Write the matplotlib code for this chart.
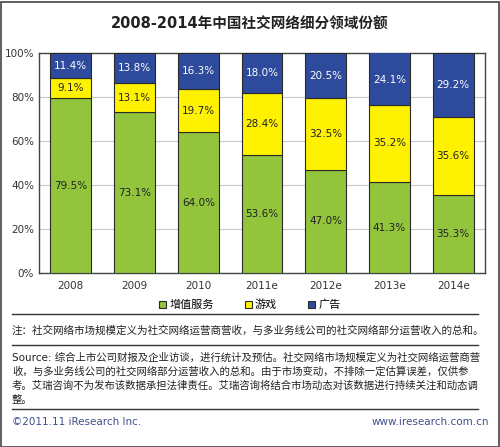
import matplotlib
matplotlib.use("Agg")
from matplotlib import pyplot as plt
from matplotlib.lines import Line2D
from matplotlib.patches import Rectangle
import numpy as np

plt.rcParams['font.family'] = ['DejaVu Sans', 'Noto Sans CJK SC']

# data
years = ['2008', '2009', '2010', '2011e', '2012e', '2013e', '2014e']
vas = [79.5, 73.1, 64.0, 53.6, 47.0, 41.3, 35.3]
games = [9.1, 13.1, 19.7, 28.4, 32.5, 35.2, 35.6]
ads = [11.4, 13.8, 16.3, 18.0, 20.5, 24.1, 29.2]
series_names = ['增值服务', '游戏', '广告']

title = '2008-2014年中国社交网络细分领域份额'
note = '注：社交网络市场规模定义为社交网络运营商营收，与多业务线公司的社交网络部分运营收入的总和。'
source = ['Source: 综合上市公司财报及企业访谈，进行统计及预估。社交网络市场规模定义为社交网络运营商营',
          '收，与多业务线公司的社交网络部分运营收入的总和。由于市场变动，不排除一定估算误差，仅供参',
          '考。艾瑞咨询不为发布该数据承担法律责任。艾瑞咨询将结合市场动态对该数据进行持续关注和动态调',
          '整。']

green = '#92c43c'
yellow = '#fff200'
blue = '#2e4a9c'
edge = '#2a2a2a'

W, H = 500, 447
fig = plt.figure(figsize=(W/100, H/100), dpi=100)
fig.patch.set_facecolor('white')

ax = fig.add_axes([39/W, 1-273/H, 446/W, 220/H])
x = np.arange(len(years))
bw = 0.64
vas = np.array(vas)
games = np.array(games)
ads = np.array(ads)
ax.bar(x, vas, bw, color=green, edgecolor=edge, linewidth=0.8, zorder=3, label=series_names[0])
ax.bar(x, games, bw, bottom=vas, color=yellow, edgecolor=edge, linewidth=0.8, zorder=3, label=series_names[1])
ax.bar(x, ads, bw, bottom=vas+games, color=blue, edgecolor=edge, linewidth=0.8, zorder=3, label=series_names[2])

for i in range(len(years)):
    ax.text(x[i], vas[i]/2, '%.1f%%' % vas[i], ha='center', va='center', fontsize=7.5, color='#222222', zorder=4)
    ax.text(x[i], vas[i]+games[i]/2, '%.1f%%' % games[i], ha='center', va='center', fontsize=7.5, color='#222222', zorder=4)
    ax.text(x[i], min(vas[i]+games[i]+ads[i]/2, 100-ads[i]/2), '%.1f%%' % ads[i], ha='center', va='center', fontsize=7.5, color='white', zorder=4)

ax.set_xlim(-0.5, len(years)-0.5)
ax.set_ylim(0, 100)
ax.set_yticks([0, 20, 40, 60, 80, 100])
ax.set_yticklabels(['0%', '20%', '40%', '60%', '80%', '100%'])
ax.set_xticks(x)
ax.set_xticklabels(years)
ax.tick_params(axis='both', length=0, labelsize=7.5, colors='#333333')
ax.tick_params(axis='x', pad=6)
ax.yaxis.grid(True, color='#c8c8c8', linewidth=0.8, zorder=0)
for s in ax.spines.values():
    s.set_color('#444444')
    s.set_linewidth(1.0)

leg = fig.legend(loc='center', bbox_to_anchor=(0.5, 1-305/H), ncol=3, frameon=False,
                 fontsize=8, handlelength=0.6, handleheight=0.6, handletextpad=0.3, columnspacing=2.8)

fig.text(0.5, 1-24/H, title, ha='center', va='center', fontsize=10.5, fontweight='bold', color='#222222')

for yy in [314, 345, 409]:
    fig.add_artist(Line2D([12/W, 478/W], [1-yy/H, 1-yy/H], color='#333333', linewidth=1.0))

fig.text(12/W, 1-330/H, note, ha='left', va='center', fontsize=7.6, color='#222222')
for k, line in enumerate(source):
    fig.text(12/W, 1-(358+14*k)/H, line, ha='left', va='center', fontsize=7.5, color='#222222')

fig.text(12/W, 1-422/H, '©2011.11 iResearch Inc.', ha='left', va='center', fontsize=7.5, color='#3f4f8a')
fig.text(489/W, 1-422/H, 'www.iresearch.com.cn', ha='right', va='center', fontsize=7.5, color='#3f4f8a')

fig.add_artist(Rectangle((0.5/W, 0.5/H), (W-2)/W, (H-2)/H, fill=False, edgecolor='#444444', linewidth=1.2))

fig.savefig('out.png', dpi=100)
